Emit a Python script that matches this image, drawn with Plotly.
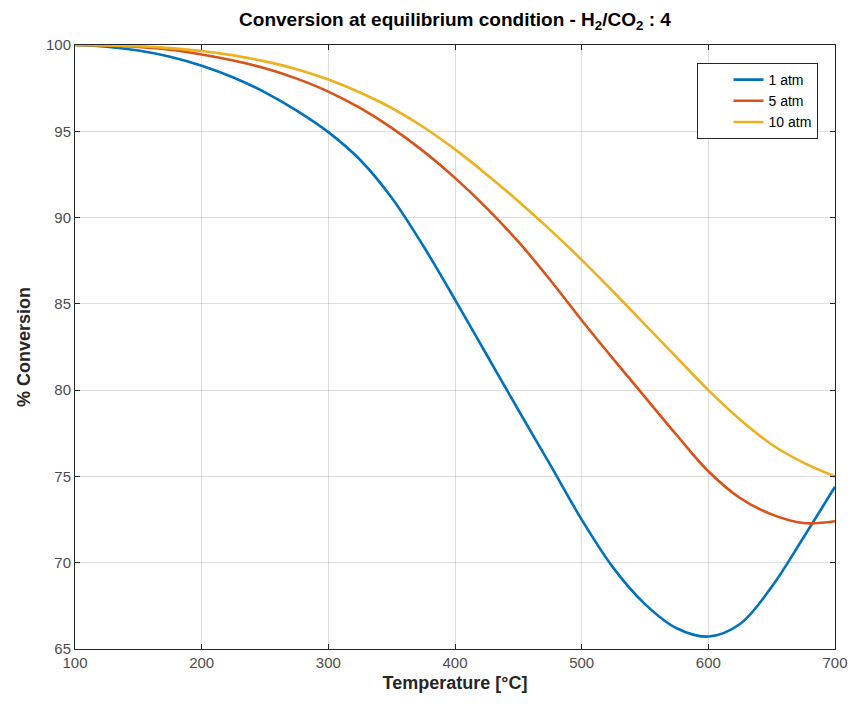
import plotly.graph_objects as go

temps = [100, 125, 150, 175, 200, 225, 250, 275, 300, 325, 350, 375, 400,
         425, 450, 475, 500, 525, 550, 575, 600, 625, 650, 675, 700]

conv_1atm = [100.0, 99.9, 99.68, 99.32, 98.8, 98.12, 97.26, 96.2, 94.95, 93.35, 91.15, 88.35, 85.25,
             82.05, 78.85, 75.7, 72.5, 69.7, 67.6, 66.2, 65.72, 66.45, 68.6, 71.45, 74.4]
conv_5atm = [100.0, 99.97, 99.88, 99.72, 99.45, 99.1, 98.65, 98.05, 97.3, 96.35, 95.2, 93.85, 92.3,
             90.55, 88.6, 86.4, 84.05, 81.8, 79.6, 77.4, 75.3, 73.75, 72.8, 72.3, 72.4]
conv_10atm = [100.0, 99.98, 99.93, 99.82, 99.65, 99.4, 99.05, 98.6, 98.0, 97.25, 96.35, 95.25, 93.95,
              92.5, 90.95, 89.3, 87.55, 85.7, 83.8, 81.9, 80.0, 78.3, 76.85, 75.8, 75.0]

series = [("1 atm", conv_1atm, "#0072BD"),
          ("5 atm", conv_5atm, "#D95319"),
          ("10 atm", conv_10atm, "#EDB120")]

x_ticks = [100, 200, 300, 400, 500, 600, 700]
y_ticks = [65, 70, 75, 80, 85, 90, 95, 100]

fig = go.Figure()
for name, vals, col in series:
    fig.add_trace(go.Scatter(x=temps, y=vals, mode="lines", name=name,
                             line=dict(color=col, width=2.6, shape="spline", smoothing=1.0)))

font_family = "Liberation Sans, Arial, sans-serif"
axis_common = dict(showgrid=True, gridcolor="rgba(0,0,0,0.13)", gridwidth=1,
                   showline=True, linecolor="#262626", linewidth=1, mirror="ticks",
                   ticks="inside", ticklen=5, tickcolor="#262626", zeroline=False,
                   automargin=False,
                   tickfont=dict(family=font_family, size=15, color="#4d4d4d"))

fig.update_layout(
    width=854, height=706,
    margin=dict(l=74.5, r=18.5, t=45, b=57),
    paper_bgcolor="white", plot_bgcolor="white",
    font=dict(family=font_family, color="#262626"),
    title=dict(text="<b>Conversion at equilibrium condition - H<sub>2</sub>/CO<sub>2</sub> : 4</b>",
               x=0.5, xref="paper", xanchor="center", y=1 - 19 / 706, yanchor="middle",
               font=dict(family=font_family, size=19, color="black")),
    xaxis=dict(range=[100, 700], tickvals=x_ticks,
               title=dict(text="<b>Temperature [°C]</b>", standoff=6,
                          font=dict(family=font_family, size=18, color="#262626")),
               **axis_common),
    yaxis=dict(range=[65, 100], tickvals=y_ticks,
               title=dict(text="<b>% Conversion</b>", standoff=10,
                          font=dict(family=font_family, size=18, color="#262626")),
               **axis_common),
    legend=dict(x=(818 - 74.5) / 761, y=(649 - 63) / 604, xanchor="right", yanchor="top",
                bgcolor="white", bordercolor="#262626", borderwidth=1,
                font=dict(family=font_family, size=14, color="black"),
                tracegroupgap=0, itemwidth=30, indentation=31),
    showlegend=True,
)

fig.write_html("out.html")
